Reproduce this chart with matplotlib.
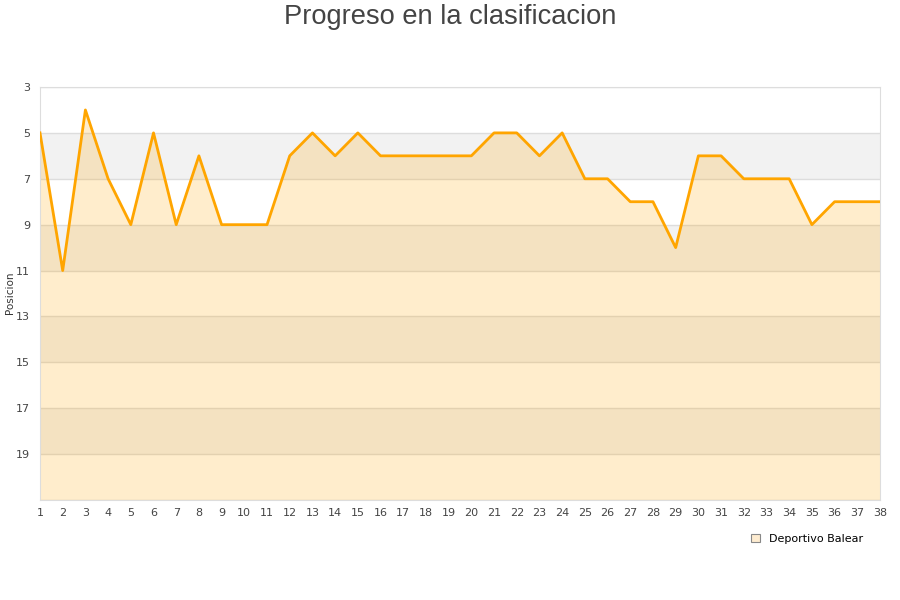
import matplotlib
matplotlib.use("Agg")
import matplotlib.pyplot as plt
from matplotlib.patches import Patch

jornadas = list(range(1, 39))
posiciones = [5, 11, 4, 7, 9, 5, 9, 6, 9, 9, 9, 6, 5, 6, 5, 6, 6, 6, 6, 6,
              5, 5, 6, 5, 7, 7, 8, 8, 10, 6, 6, 7, 7, 7, 9, 8, 8, 8]
team = "Deportivo Balear"
yticks = [3, 5, 7, 9, 11, 13, 15, 17, 19]

fig = plt.figure(figsize=(9, 6), dpi=100)
ax = fig.add_axes([40/900, 1-500/600, 840/900, 413/600])
ax.set_xlim(1, 38)
ax.set_ylim(21, 3)

for lo in [5, 9, 13, 17]:
    ax.axhspan(lo, lo + 2, color="#f2f2f2", zorder=0, lw=0)
for y in yticks + [21]:
    ax.axhline(y, color="#dddddd", lw=1, zorder=1)

ax.fill_between(jornadas, posiciones, 21, color="#ffa500", alpha=0.2, lw=0, zorder=2)
ax.plot(jornadas, posiciones, color="#ffa500", lw=2, zorder=3, label=team)

ax.set_yticks(yticks)
ax.set_xticks(jornadas)
ax.tick_params(axis="both", length=0, labelsize=8, colors="#444444", pad=6)
ax.tick_params(axis="y", pad=7)
for s in ax.spines.values():
    s.set_color("#dddddd")

fig.text(10/900, 1-293/600, "Posicion", rotation=90, ha="center", va="center",
         fontsize=7.5, color="#333333")

fig.text(0.5, 1-17/600, "Progreso en la clasificacion", ha="center", va="center",
         fontsize=19.6, color="#444444", family=["Liberation Sans", "DejaVu Sans"])

h = Patch(facecolor="#feecd0", edgecolor="#888888", lw=0.8)
fig.legend([h], [team], loc="center", bbox_to_anchor=(807/900, 1-539/600),
           frameon=False, fontsize=8, handlelength=0.8, handleheight=0.8,
           handletextpad=0.8)

fig.savefig("out.png", dpi=100)
